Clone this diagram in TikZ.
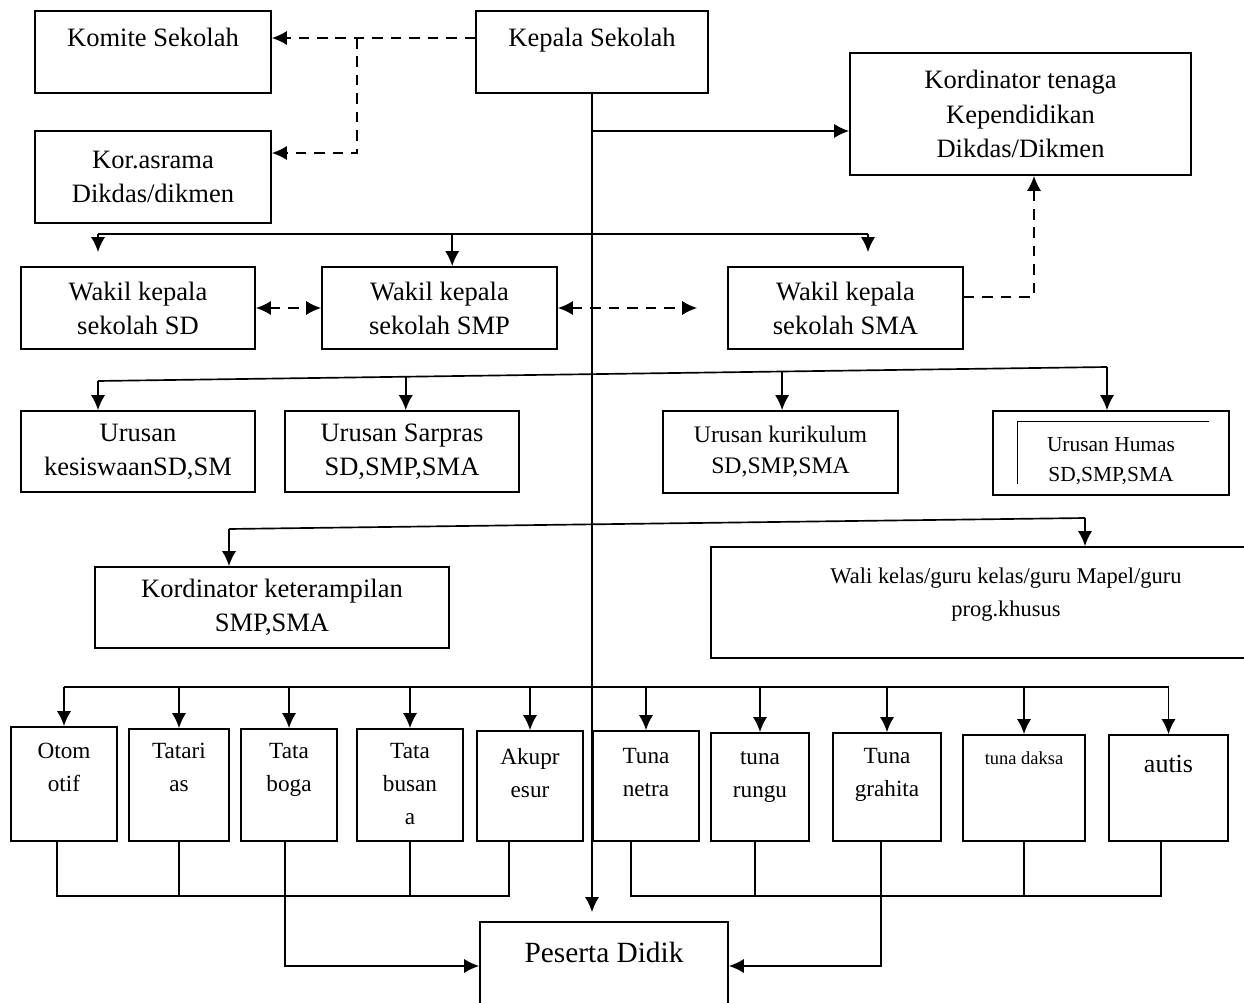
\documentclass[tikz,border=0pt]{standalone}
\usepackage{fontspec}
\setmainfont{Liberation Serif}
\usetikzlibrary{arrows.meta,positioning}
\newcommand{\fmain}{\fontsize{15.1}{19.4}\selectfont}
\newcommand{\fkur}{\fontsize{13.5}{17.6}\selectfont}
\newcommand{\fhum}{\fontsize{12.2}{17}\selectfont}
\newcommand{\fwal}{\fontsize{12.8}{18.8}\selectfont}
\newcommand{\fbot}{\fontsize{13.2}{19}\selectfont}
\newcommand{\fdak}{\fontsize{10.5}{13}\selectfont}
\newcommand{\faut}{\fontsize{14.8}{18}\selectfont}
\newcommand{\fpes}{\fontsize{16.7}{20}\selectfont}
\tikzstyle{block} = [draw,rectangle,line width=1pt,align=center,inner sep=0pt,font=\fmain]
\tikzstyle{toptext} = [anchor=north,align=center,inner sep=0pt,font=\fmain]
\tikzstyle{dline} = [line width=1pt,dash pattern=on 6pt off 4.5pt]

\begin{document}
\begin{tikzpicture}[x=0.02cm,y=-0.02cm,line width=0.95pt,>={Latex[length=8.5pt,width=8pt]}]
  \useasboundingbox (0,0) rectangle (1244,1003);

  %top
  \node[block,minimum width=4.72cm,minimum height=1.64cm,label={[toptext,yshift=-0.34cm]north:Komite Sekolah}] (komite) at (153,52) {};
  \node[block,minimum width=4.64cm,minimum height=1.64cm,label={[toptext,yshift=-0.34cm]north:Kepala Sekolah}] (kepala) at (592,52) {};
  \node[block,minimum width=4.72cm,minimum height=1.84cm] (korasrama) at (153,177) {Kor.asrama\\Dikdas/dikmen};
  \node[block,minimum width=6.82cm,minimum height=2.44cm] (kortenaga) at (1020.5,114) {Kordinator tenaga\\Kependidikan\\Dikdas/Dikmen};

  %wakil
  \node[block,minimum width=4.68cm,minimum height=1.64cm] (wakilsd) at (138,308) {Wakil kepala\\sekolah SD};
  \node[block,minimum width=4.7cm,minimum height=1.64cm] (wakilsmp) at (439.5,308) {Wakil kepala\\sekolah SMP};
  \node[block,minimum width=4.7cm,minimum height=1.64cm] (wakilsma) at (845.5,308) {Wakil kepala\\sekolah SMA};
  \coordinate[left=0.6cm of wakilsma.west] (smaend);

  %urusan
  \node[block,minimum width=4.68cm,minimum height=1.62cm] (urkes) at (138,451.5) {Urusan\\kesiswaanSD,SM};
  \node[block,minimum width=4.68cm,minimum height=1.62cm] (ursarpras) at (402,451.5) {Urusan Sarpras\\SD,SMP,SMA};
  \node[block,minimum width=4.7cm,minimum height=1.64cm,font=\fkur] (urkur) at (780.5,452) {Urusan kurikulum\\SD,SMP,SMA};
  \node[block,minimum width=4.72cm,minimum height=1.68cm,label={[toptext,font=\fhum,yshift=-0.54cm]north:Urusan Humas\\SD,SMP,SMA}] (urhumas) at (1111,453) {};
  \draw[line width=0.6pt] ([xshift=0.5cm,yshift=0.24cm]urhumas.south west) |- ([xshift=-0.42cm,yshift=-0.22cm]urhumas.north east);

  %kordinator, wali
  \node[block,minimum width=7.08cm,minimum height=1.62cm] (kortrampil) at (272,607.5) {Kordinator keterampilan\\SMP,SMA};
  \node[block,minimum width=11.8cm,minimum height=2.22cm,label={[toptext,font=\fwal,yshift=-0.42cm]north:Wali kelas/guru kelas/guru Mapel/guru\\prog.khusus}] (wali) at (1006,602.5) {};

  %program
  \node[block,minimum width=2.12cm,minimum height=2.28cm,label={[toptext,font=\fbot,yshift=-0.32cm]north:Otom\\otif}] (otom) at (64,784) {};
  \node[block,minimum width=2.0cm,minimum height=2.24cm,label={[toptext,font=\fbot,yshift=-0.28cm]north:Tatari\\as}] (tatarias) at (179,785) {};
  \node[block,minimum width=1.92cm,minimum height=2.24cm,label={[toptext,font=\fbot,yshift=-0.28cm]north:Tata\\boga}] (tataboga) at (289,785) {};
  \node[block,minimum width=2.12cm,minimum height=2.24cm,label={[toptext,font=\fbot,yshift=-0.28cm]north:Tata\\busan\\a}] (tatabusana) at (410,785) {};
  \node[block,minimum width=2.12cm,minimum height=2.2cm,label={[toptext,font=\fbot,yshift=-0.34cm]north:Akupr\\esur}] (akupresur) at (530,786) {};
  \node[block,minimum width=2.12cm,minimum height=2.2cm,label={[toptext,font=\fbot,yshift=-0.34cm]north:Tuna\\netra}] (tunanetra) at (646,786) {};
  \node[block,minimum width=1.96cm,minimum height=2.16cm,label={[toptext,font=\fbot,yshift=-0.36cm]north:tuna\\rungu}] (tunarungu) at (760,787) {};
  \node[block,minimum width=2.16cm,minimum height=2.16cm,label={[toptext,font=\fbot,yshift=-0.3cm]north:Tuna\\grahita}] (tunagrahita) at (887,787) {};
  \node[block,minimum width=2.44cm,minimum height=2.12cm,label={[toptext,font=\fdak,yshift=-0.34cm]north:tuna daksa}] (tunadaksa) at (1024,788) {};
  \node[block,minimum width=2.38cm,minimum height=2.12cm,label={[toptext,font=\faut,yshift=-0.4cm]north:autis}] (autis) at (1168.5,788) {};

  %peserta
  \node[block,minimum width=4.96cm,minimum height=1.76cm,label={[toptext,font=\fpes,yshift=-0.4cm]north:Peserta Didik}] (peserta) at (604,966) {};

  %dashed links
  \path ([yshift=0.28cm]kepala.west) -- ([yshift=0.28cm]komite.east) coordinate[pos=0.58] (dk);
  \draw[dline,->] ([yshift=0.28cm]kepala.west) -- ([yshift=0.28cm]komite.east);
  \draw[dline,->] (dk) |- ([yshift=0.48cm]korasrama.east);
  \draw[dline,<->] (wakilsd) -- (wakilsmp);
  \draw[dline,<->] (wakilsmp) -- (smaend);
  \draw[dline,->] ([yshift=0.22cm]wakilsma.east) -| ([xshift=0.27cm]kortenaga.south);

  %spine
  \coordinate (kt) at ([yshift=-0.34cm]kortenaga.west);
  \draw[->,shorten >=0.18cm] (kepala.south) -- (kepala.south |- peserta.north);
  \draw[->] (kepala.south |- kt) -- (kt);

  %wakil bus
  \coordinate (b1l) at (98,234);
  \coordinate (b1r) at (868,234);
  \path (b1l) -- (b1r) coordinate[pos=0.46] (b1m);
  \draw (b1l) -- (b1r);
  \draw[->,shorten >=0.28cm] (b1l) -- (b1l |- wakilsd.north);
  \draw[->] (b1m) -- (b1m |- wakilsmp.north);
  \draw[->,shorten >=0.28cm] (b1r) -- (b1r |- wakilsma.north);

  %urusan bus
  \coordinate (b2l) at (98,381);
  \coordinate (b2r) at (1107,367);
  \path (b2l) -- (b2r) coordinate[pos=0.305] (b2a) coordinate[pos=0.678] (b2b);
  \draw (b2l) -- (b2r);
  \draw[->] (b2l) -- (b2l |- urkes.north);
  \draw[->] (b2a) -- (b2a |- ursarpras.north);
  \draw[->] (b2b) -- (b2b |- urkur.north);
  \draw[->] (b2r) -- (b2r |- urhumas.north);

  %kordinator bus
  \coordinate (b3l) at (229,529);
  \coordinate (b3r) at (1085,518);
  \draw (b3l) -- (b3r);
  \draw[->] (b3l) -- (b3l |- kortrampil.north);
  \draw[->] (b3r) -- (b3r |- wali.north);

  %program bus
  \coordinate (b4) at (0,687);
  \draw (otom.north |- b4) -- (autis.north |- b4);
  \foreach \n in {otom,tatarias,tataboga,tatabusana,akupresur,tunanetra,tunarungu,tunagrahita,tunadaksa,autis}
    \draw[->] (\n.north |- b4) -- (\n.north);

  %to peserta
  \draw ([xshift=-0.14cm]otom.south) -- ++(0,54) -| ([xshift=-0.42cm]akupresur.south);
  \draw (tatarias.south) -- ++(0,54);
  \draw (tatabusana.south) -- ++(0,54);
  \draw[->] ([xshift=-0.08cm]tataboga.south) |- (peserta);
  \draw ([xshift=-0.3cm]tunanetra.south) -- ++(0,54) -| ([xshift=-0.15cm]autis.south);
  \draw ([xshift=-0.1cm]tunarungu.south) -- ++(0,54);
  \draw (tunadaksa.south) -- ++(0,54);
  \draw[->] ([xshift=-0.12cm]tunagrahita.south) |- (peserta);

\end{tikzpicture}
\end{document}
